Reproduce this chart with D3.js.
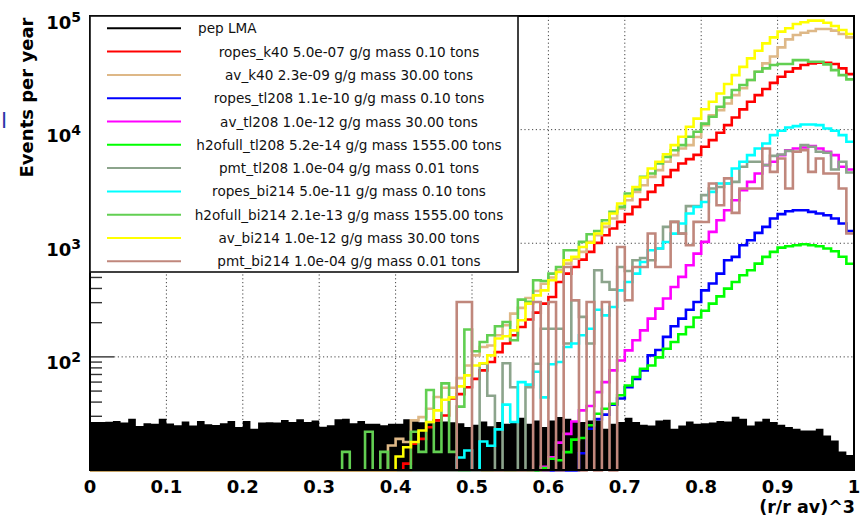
<!DOCTYPE html>
<html>
<head>
<meta charset="utf-8">
<script src="https://cdn.jsdelivr.net/npm/d3@7"></script>
<style>
  body { margin: 0; background: #fff; }
  text { font-family: "DejaVu Sans", sans-serif; }
</style>
</head>
<body>
<div id="chart"></div>
<script>
// 100 bins of (r/r_av)^3, width 0.01, events per year
const binWidth = 0.01;

const pepLMA = [
  26.7, 26.7, 26.9, 27.2, 26.4, 28.5, 24.6, 26.1, 25.8, 28.5,
  25.9, 25.0, 27.0, 24.9, 27.3, 25.5, 25.1, 26.0, 27.3, 24.1,
  27.3, 23.3, 26.4, 26.6, 26.5, 27.8, 26.7, 28.3, 26.7, 27.6,
  24.3, 25.0, 28.3, 28.6, 26.0, 27.3, 25.8, 25.8, 25.0, 25.8,
  25.8, 28.3, 27.6, 26.6, 26.0, 27.0, 27.0, 26.6, 26.0, 24.1,
  25.3, 27.0, 24.5, 26.7, 25.8, 26.7, 29.1, 25.8, 27.6, 24.1,
  27.6, 29.5, 28.5, 26.7, 26.7, 27.6, 27.6, 23.3, 25.8, 26.7,
  29.1, 26.7, 25.3, 24.9, 27.6, 27.9, 23.3, 24.9, 27.0, 25.8,
  26.1, 26.4, 27.3, 27.0, 29.7, 28.5, 24.9, 27.0, 28.5, 26.7,
  25.3, 24.1, 23.3, 22.5, 22.5, 23.3, 20.3, 18.4, 14.7, 13.7
];

const ropesK40 = [
  0, 0, 0, 0, 0, 0, 0, 0, 0, 0,
  0, 0, 0, 0, 0, 0, 0, 0, 0, 0,
  0, 0, 0, 0, 0, 0, 0, 0, 0, 0,
  0, 0, 0, 0, 0, 0, 0, 0, 0, 0,
  0, 11.5, 17.2, 19, 24, 27.6, 30.5, 43, 47, 54,
  64, 76, 90, 110, 131, 155, 183, 213, 245, 294,
  336, 456, 540, 618, 718, 839, 1007, 1175, 1348, 1542,
  1803, 2090, 2427, 2830, 3240, 3840, 4400, 5040, 5500, 6000,
  7060, 8080, 9380, 10960, 12800, 15060, 17600, 20100, 22800, 25800,
  29200, 32300, 34600, 37000, 38300, 38800, 38800, 37800, 34600, 30800
];

const avK40 = [
  0, 0, 0, 0, 0, 0, 0, 0, 0, 0,
  0, 0, 0, 0, 0, 0, 0, 0, 0, 0,
  0, 0, 0, 0, 0, 0, 0, 0, 0, 0,
  0, 0, 0, 0, 0, 0, 0, 0, 0, 16.6,
  19, 17.8, 27.6, 29.5, 35, 44.3, 53.5, 53.5, 65, 84,
  103, 122, 126, 155, 190, 240, 270, 330, 380, 440,
  500, 580, 662, 733, 839, 1028, 1175, 1393, 1650, 2020,
  2390, 2830, 3240, 3840, 4400, 5210, 5960, 6820, 7300, 8600,
  10960, 13400, 14860, 17000, 20100, 23100, 27300, 32300, 38300, 44000,
  53000, 62300, 68100, 71300, 73800, 76800, 76800, 74300, 69500, 64900
];

const ropesTl208 = [
  0, 0, 0, 0, 0, 0, 0, 0, 0, 0,
  0, 0, 0, 0, 0, 0, 0, 0, 0, 0,
  0, 0, 0, 0, 0, 0, 0, 0, 0, 0,
  0, 0, 0, 0, 0, 0, 0, 0, 0, 0,
  0, 0, 0, 0, 0, 0, 0, 0, 0, 0,
  0, 0, 0, 0, 0, 0, 0, 0, 0, 0,
  0, 0, 0, 0, 14.2, 23.3, 28.3, 31, 38, 43,
  54, 64, 76, 103, 115, 150, 186, 217, 260, 304,
  385, 442, 540, 708, 758, 960, 1062, 1233, 1393, 1650,
  1803, 1914, 1954, 1954, 1888, 1828, 1766, 1650, 1490, 1283
];

const avTl208 = [
  0, 0, 0, 0, 0, 0, 0, 0, 0, 0,
  0, 0, 0, 0, 0, 0, 0, 0, 0, 0,
  0, 0, 0, 0, 0, 0, 0, 0, 0, 0,
  0, 0, 0, 0, 0, 0, 0, 0, 0, 0,
  0, 0, 0, 0, 0, 0, 0, 0, 0, 0,
  0, 0, 0, 0, 0, 0, 0, 0, 0, 10.8,
  13.1, 17.6, 21, 27, 33.8, 37, 49, 60, 76, 93,
  114, 140, 171, 217, 266, 326, 412, 506, 640, 811,
  1028, 1259, 1595, 1954, 2390, 2930, 3470, 4110, 4870, 5210,
  5960, 6590, 6820, 6960, 7160, 6820, 6380, 5960, 4710, 4460
];

const h2ofullTl208 = [
  0, 0, 0, 0, 0, 0, 0, 0, 0, 0,
  0, 0, 0, 0, 0, 0, 0, 0, 0, 0,
  0, 0, 0, 0, 0, 0, 0, 0, 0, 0,
  0, 0, 0, 0, 0, 0, 0, 0, 0, 0,
  0, 0, 0, 0, 0, 0, 0, 0, 0, 0,
  0, 0, 0, 0, 0, 0, 0, 0, 0, 10.5,
  12.7, 12.3, 14.5, 18.7, 19.3, 25, 31.6, 35, 38.7, 46,
  56, 66.5, 78.6, 84, 99, 118, 135, 158, 183, 222,
  255, 294, 341, 399, 456, 523, 578, 662, 758, 839,
  916, 942, 960, 980, 960, 940, 900, 850, 760, 660
];

const pmtTl208 = [
  0, 0, 0, 0, 0, 0, 0, 0, 0, 0,
  0, 0, 0, 0, 0, 0, 0, 0, 0, 0,
  0, 0, 0, 0, 0, 0, 0, 0, 0, 0,
  0, 0, 0, 0, 0, 0, 0, 0, 0, 0,
  0, 0, 0, 0, 0, 0, 0, 0, 0, 0,
  0, 87, 45.5, 0, 88, 54, 0, 54, 87, 177,
  177, 177, 131, 315, 225, 131, 578, 456, 391, 618,
  570, 708, 741, 708, 898, 1393, 1542, 1215, 2120, 2130,
  2650, 3030, 3130, 3360, 3470, 4710, 5210, 5210, 4870, 5880,
  6040, 6500, 6380, 7300, 7060, 6380, 6250, 4460, 5210, 4200
];

const ropesBi214 = [
  0, 0, 0, 0, 0, 0, 0, 0, 0, 0,
  0, 0, 0, 0, 0, 0, 0, 0, 0, 0,
  0, 0, 0, 0, 0, 0, 0, 0, 0, 0,
  0, 0, 0, 0, 0, 0, 0, 0, 0, 0,
  0, 0, 0, 0, 0, 0, 0, 0, 13, 15,
  0, 18, 16.5, 23, 38, 26.7, 60, 57, 74, 44,
  86, 90, 122, 131, 155, 177, 260, 232, 275, 385,
  456, 540, 684, 867, 898, 1026, 1215, 1490, 1830, 2090,
  2310, 2830, 3356, 3356, 4550, 5210, 5960, 6820, 7550, 8950,
  9770, 10450, 10740, 11100, 11100, 10960, 10240, 9770, 8950, 7810
];

const h2ofullBi214 = [
  0, 0, 0, 0, 0, 0, 0, 0, 0, 0,
  0, 0, 0, 0, 0, 0, 0, 0, 0, 0,
  0, 0, 0, 0, 0, 0, 0, 0, 0, 0,
  0, 0, 0, 14.6, 0, 0, 21.9, 0, 14.6, 0,
  0, 0, 21.9, 14.6, 51.1, 14.6, 58.4, 14.6, 36.5, 174,
  112, 135, 155, 186, 203, 140, 319, 305, 472, 465,
  540, 618, 867, 867, 1028, 1200, 1283, 1595, 1888, 2090,
  2740, 2970, 3840, 4110, 5040, 5760, 6590, 7300, 8650, 9570,
  11300, 13000, 15900, 19200, 22300, 24700, 27300, 32300, 34600, 37000,
  37800, 37800, 40900, 40900, 39600, 39600, 37500, 33400, 30200, 27700
];

const avBi214 = [
  0, 0, 0, 0, 0, 0, 0, 0, 0, 0,
  0, 0, 0, 0, 0, 0, 0, 0, 0, 0,
  0, 0, 0, 0, 0, 0, 0, 0, 0, 0,
  0, 0, 0, 0, 0, 0, 0, 0, 0, 0,
  13.3, 16, 17.8, 22.5, 26.7, 33.8, 42, 44, 55, 68.7,
  84, 88, 103, 145, 152, 171, 210, 294, 348, 385,
  472, 559, 708, 758, 927, 1010, 1220, 1490, 1830, 2240,
  2600, 3130, 3790, 4550, 5210, 6080, 7300, 8650, 10600, 12500,
  15100, 17600, 20800, 25200, 30200, 35700, 42400, 49400, 57400, 64900,
  72800, 77900, 85000, 88000, 91000, 91000, 87300, 81700, 75300, 69400
];

const pmtBi214 = [
  0, 0, 0, 0, 0, 0, 0, 0, 0, 0,
  0, 0, 0, 0, 0, 0, 0, 0, 0, 0,
  0, 0, 0, 0, 0, 0, 0, 0, 0, 0,
  0, 0, 0, 0, 0, 0, 0, 0, 0, 0,
  0, 0, 0, 0, 0, 0, 0, 0, 304, 304,
  0, 0, 0, 0, 0, 0, 0, 0, 304, 0,
  304, 0, 618, 315, 0, 304, 0, 304, 0, 927,
  315, 618, 618, 1217, 618, 618, 1542, 1217, 960, 1542,
  1540, 3360, 2160, 3720, 1850, 3030, 3030, 3030, 6830, 4250,
  5570, 3030, 6380, 6600, 4250, 5570, 4110, 4110, 3030, 1217
];

const labels = [
  "pep LMA",
  "ropes_k40 5.0e-07 g/g mass 0.10 tons",
  "av_k40 2.3e-09 g/g mass 30.00 tons",
  "ropes_tl208 1.1e-10 g/g mass 0.10 tons",
  "av_tl208 1.0e-12 g/g mass 30.00 tons",
  "h2ofull_tl208 5.2e-14 g/g mass 1555.00 tons",
  "pmt_tl208 1.0e-04 g/g mass 0.01 tons",
  "ropes_bi214 5.0e-11 g/g mass 0.10 tons",
  "h2ofull_bi214 2.1e-13 g/g mass 1555.00 tons",
  "av_bi214 1.0e-12 g/g mass 30.00 tons",
  "pmt_bi214 1.0e-04 g/g mass 0.01 tons"
];
const colors = ["#000000", "#ff0000", "#deb887", "#0000ff", "#ff00ff", "#00ff00",
                "#8ca48c", "#00ffff", "#62cf52", "#ffff00", "#c0877c"];
const xTicks = [0, 0.1, 0.2, 0.3, 0.4, 0.5, 0.6, 0.7, 0.8, 0.9, 1];
const yDecades = [1, 2, 3, 4, 5];
const yLabelDecades = [2, 3, 4, 5];

(function histo() {
  let width = 862,
      height = 516,
      margin = ({ top: 16, right: 8, bottom: 46, left: 90 });

  const svg = d3.select("#chart")
      .append("svg")
      .attr("width", width)
      .attr("height", height)
      .attr("viewBox", [0, 0, width, height]);

  const series = [pepLMA, ropesK40, avK40, ropesTl208, avTl208, h2ofullTl208,
                  pmtTl208, ropesBi214, h2ofullBi214, avBi214, pmtBi214]
    .map((values, i) => ({ name: labels[i], color: colors[i], values }));

  let x = d3.scaleLinear()
    .domain([0, 1])
    .range([margin.left, width - margin.right]);

  let y = d3.scaleLog()
    .domain([10, 1e5])
    .range([height - margin.bottom + 0.5, margin.top]);

  const yc = v => v <= 10 ? y(10) : y(v);

  // step outline of a histogram
  const steps = values => values.flatMap((v, i) => [
    [x(i * binWidth), yc(v)], [x((i + 1) * binWidth), yc(v)]
  ]);

  // grid
  const grid = svg.append("g")
    .attr("stroke", "#444")
    .attr("stroke-width", 1)
    .attr("stroke-dasharray", "1.2,2.6");
  grid.selectAll(".gx")
    .data(xTicks.slice(1, -1))
    .join("line")
    .attr("x1", d => x(d)).attr("x2", d => x(d))
    .attr("y1", margin.top).attr("y2", height - margin.bottom);
  grid.selectAll(".gy")
    .data(yDecades.slice(1, -1))
    .join("line")
    .attr("x1", margin.left + 24).attr("x2", width - margin.right)
    .attr("y1", d => y(Math.pow(10, d))).attr("y2", d => y(Math.pow(10, d)));

  // left axis ticks, inside the frame
  const minor = [];
  yDecades.slice(0, -1).forEach(d => {
    for (let m = 2; m <= 9; m++) minor.push(m * Math.pow(10, d));
  });
  svg.append("g")
    .attr("stroke", "#333")
    .attr("stroke-width", 1.4)
    .selectAll("line")
    .data(minor.map(v => ({ v, len: 12 })).concat(yDecades.map(d => ({ v: Math.pow(10, d), len: 24 }))))
    .join("line")
    .attr("x1", margin.left).attr("x2", d => margin.left + d.len)
    .attr("y1", d => y(d.v)).attr("y2", d => y(d.v));

  // pep LMA: filled black
  svg.append("path")
    .datum(steps(series[0].values))
    .attr("fill", "#000")
    .attr("d", d3.area().x(d => d[0]).y0(y(10)).y1(d => d[1]));

  const line = d3.line();
  svg.append("g")
    .attr("fill", "none")
    .attr("stroke-width", 2.6)
    .selectAll("path")
    .data(series.slice(1))
    .join("path")
    .attr("stroke", d => d.color)
    .attr("d", d => line(steps(d.values)));

  // frame
  svg.append("rect")
    .attr("x", margin.left).attr("y", margin.top)
    .attr("width", width - margin.left - margin.right)
    .attr("height", height - margin.top - margin.bottom)
    .attr("fill", "none")
    .attr("stroke", "#000")
    .attr("stroke-width", 2);

  // x tick labels
  svg.append("g")
    .selectAll("text")
    .data(xTicks)
    .join("text")
    .attr("x", d => x(d))
    .attr("y", 493)
    .attr("text-anchor", "middle")
    .attr("font-size", 18)
    .attr("font-weight", "bold")
    .text(d => d3.format("~g")(d));

  // y tick labels 10^n
  const yl = svg.append("g")
    .selectAll("text")
    .data(yLabelDecades)
    .join("text")
    .attr("x", 81)
    .attr("y", d => y(Math.pow(10, d)) + 12.5)
    .attr("text-anchor", "end")
    .attr("font-family", "'Liberation Sans', Arial, sans-serif")
    .attr("font-weight", "bold")
    .attr("font-size", 18);
  yl.append("tspan").text("10");
  yl.append("tspan").attr("dy", -7).attr("font-size", 14).text(d => d);

  // axis titles
  svg.append("text")
    .attr("transform", "translate(33,97.5) rotate(-90)")
    .attr("text-anchor", "middle")
    .attr("font-size", 18)
    .attr("font-weight", "bold")
    .text("Events per year");

  svg.append("text")
    .attr("x", 855)
    .attr("y", 513)
    .attr("text-anchor", "end")
    .attr("font-size", 17.5)
    .attr("font-weight", "bold")
    .text("(r/r av)^3");

  // small clipped glyph on the left edge
  svg.append("text")
    .attr("x", 1)
    .attr("y", 128)
    .attr("font-family", "'DejaVu Serif', serif")
    .attr("font-size", 22)
    .attr("fill", "#2a35a8")
    .text("l");

  // legend
  const legend = svg.append("g");
  legend.append("rect")
    .attr("x", margin.left).attr("y", margin.top)
    .attr("width", 428).attr("height", 256)
    .attr("fill", "#fff")
    .attr("stroke", "#111")
    .attr("stroke-width", 1.6);

  const entry = legend.selectAll(".entry")
    .data(series)
    .join("g")
    .attr("class", "entry")
    .attr("transform", (d, i) => `translate(0,${28.3 + i * 23.3})`);

  entry.append("line")
    .attr("x1", 107).attr("x2", 181)
    .attr("stroke", d => d.color)
    .attr("stroke-width", 2);

  entry.append("text")
    .attr("x", (d, i) => i === 0 ? 198 : 349)
    .attr("y", 5)
    .attr("text-anchor", (d, i) => i === 0 ? "start" : "middle")
    .attr("font-size", 13.6)
    .attr("fill", "#111")
    .text(d => d.name);
})();
</script>
</body>
</html>
